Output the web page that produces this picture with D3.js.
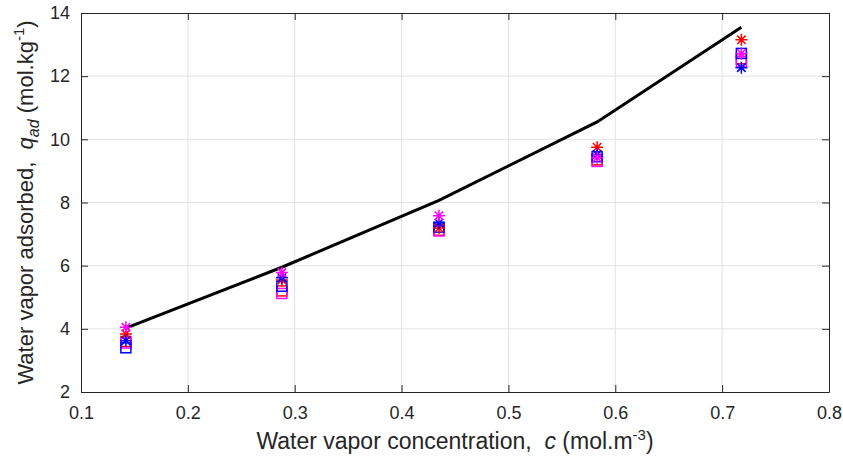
<!DOCTYPE html>
<html>
<head>
<meta charset="utf-8">
<script src="https://cdn.jsdelivr.net/npm/d3@7"></script>
<style>
  body { margin: 0; background: #fff; }
  text { font-family: "Liberation Sans", Arial, sans-serif; }
</style>
</head>
<body>
<div id="entry"></div>
<script>
// concentration (mol.m^-3)
const conc = [0.142, 0.288, 0.435, 0.583, 0.718];
// model line
const model = [4.02, 5.95, 8.07, 10.55, 13.55];
// measured / fitted points
const redStar = [3.84, 5.55, 7.19, 9.75, 13.15];
const blueStar = [3.62, 5.62, 7.35, 9.52, 12.27];
const magStar = [4.05, 5.78, 7.58, 9.42, 12.72];
const redSquare = [3.60, 5.20, 7.12, 9.35, 12.55];
const blueSquare = [3.40, 5.35, 7.22, 9.45, 12.72];
const magSquare = [3.55, 5.12, 7.10, 9.30, 12.46];

const xTicks = [0.1, 0.2, 0.3, 0.4, 0.5, 0.6, 0.7, 0.8];
const yTicks = [2, 4, 6, 8, 10, 12, 14];

const width = 843, height = 461;
const margin = {top: 13, right: 14, bottom: 69, left: 81};

const svg = d3.select('#entry').append('svg')
    .attr('width', width)
    .attr('height', height);

const x = d3.scaleLinear().domain([0.1, 0.8]).range([margin.left, width - margin.right]);
const y = d3.scaleLinear().domain([2, 14]).range([height - margin.bottom, margin.top]);

const axisColor = '#262626';

// grid
svg.append('g').selectAll('line.gx')
    .data(xTicks.slice(1, -1))
    .enter().append('line')
    .attr('x1', d => x(d)).attr('x2', d => x(d))
    .attr('y1', y(2)).attr('y2', y(14))
    .attr('stroke', '#e3e3e3').attr('stroke-width', 1);
svg.append('g').selectAll('line.gy')
    .data(yTicks.slice(1, -1))
    .enter().append('line')
    .attr('x1', x(0.1)).attr('x2', x(0.8))
    .attr('y1', d => y(d)).attr('y2', d => y(d))
    .attr('stroke', '#e3e3e3').attr('stroke-width', 1);

// axes (ticks inward, box on)
const tickLen = 7;
const fmt = d3.format('.1f');
const axBottom = svg.append('g')
    .attr('transform', `translate(0,${y(2)})`)
    .call(d3.axisBottom(x).tickValues(xTicks).tickFormat(fmt).tickSizeInner(-tickLen).tickSizeOuter(0).tickPadding(14));
const axLeft = svg.append('g')
    .attr('transform', `translate(${x(0.1)},0)`)
    .call(d3.axisLeft(y).tickValues(yTicks).tickFormat(d3.format('d')).tickSizeInner(-tickLen).tickSizeOuter(0).tickPadding(11));
const axTop = svg.append('g')
    .attr('transform', `translate(0,${y(14)})`)
    .call(d3.axisTop(x).tickValues(xTicks).tickFormat('').tickSizeInner(-tickLen).tickSizeOuter(0));
const axRight = svg.append('g')
    .attr('transform', `translate(${x(0.8)},0)`)
    .call(d3.axisRight(y).tickValues(yTicks).tickFormat('').tickSizeInner(-tickLen).tickSizeOuter(0));

[axBottom, axLeft, axTop, axRight].forEach(g => {
    g.select('.domain').attr('stroke', axisColor).attr('stroke-width', 1);
    g.selectAll('.tick line').attr('stroke', axisColor);
    g.selectAll('.tick text')
        .attr('fill', axisColor)
        .style('font-size', '18px')
        .style('font-family', '"Liberation Sans", Arial, sans-serif');
});

// model line
const line = d3.line().x(d => x(d[0])).y(d => y(d[1]));
svg.append('path')
    .datum(conc.map((c, i) => [c, model[i]]))
    .attr('d', line)
    .attr('fill', 'none')
    .attr('stroke', '#000')
    .attr('stroke-width', 3);

function starPath(r) {
    const a = r * Math.SQRT1_2;
    return `M${-r},0L${r},0M0,${-r}L0,${r}M${-a},${-a}L${a},${a}M${-a},${a}L${a},${-a}`;
}

function drawSquares(vals, color) {
    svg.append('g').selectAll('rect')
        .data(vals)
        .enter().append('rect')
        .attr('x', (d, i) => x(conc[i]) - 5)
        .attr('y', d => y(d) - 5)
        .attr('width', 10).attr('height', 10)
        .attr('fill', 'none')
        .attr('stroke', color)
        .attr('stroke-width', 1.5);
}

function drawStars(vals, color) {
    svg.append('g').selectAll('path')
        .data(vals)
        .enter().append('path')
        .attr('transform', (d, i) => `translate(${x(conc[i])},${y(d)})`)
        .attr('d', starPath(6))
        .attr('fill', 'none')
        .attr('stroke', color)
        .attr('stroke-width', 1.5);
}

drawSquares(redSquare, '#ff0000');
drawSquares(magSquare, '#ff00ff');
drawSquares(blueSquare, '#0000ff');
drawStars(redStar, '#ff0000');
drawStars(blueStar, '#0000ff');
drawStars(magStar, '#ff00ff');

// axis labels
const xl = svg.append('text')
    .attr('x', (x(0.1) + x(0.8)) / 2)
    .attr('y', 449)
    .attr('text-anchor', 'middle')
    .attr('fill', axisColor)
    .style('font-size', '23px');
xl.append('tspan').text('Water vapor concentration,  ').style('white-space', 'pre');
xl.append('tspan').text('c').style('font-style', 'italic');
xl.append('tspan').text(' (mol.m');
xl.append('tspan').text('-3').attr('dy', -9).style('font-size', '15px');
xl.append('tspan').text(')').attr('dy', 9);

const yl = svg.append('text')
    .attr('transform', `translate(33,${(y(2) + y(14)) / 2}) rotate(-90)`)
    .attr('text-anchor', 'middle')
    .attr('fill', axisColor)
    .style('font-size', '22px');
yl.append('tspan').text('Water vapor adsorbed,  ').style('white-space', 'pre');
yl.append('tspan').text('q').style('font-style', 'italic');
yl.append('tspan').text('ad').attr('dy', 6).style('font-size', '16px').style('font-style', 'italic');
yl.append('tspan').text(' (mol.kg').attr('dy', -6);
yl.append('tspan').text('-1').attr('dy', -9).style('font-size', '15px');
yl.append('tspan').text(')').attr('dy', 9);
</script>
</body>
</html>
